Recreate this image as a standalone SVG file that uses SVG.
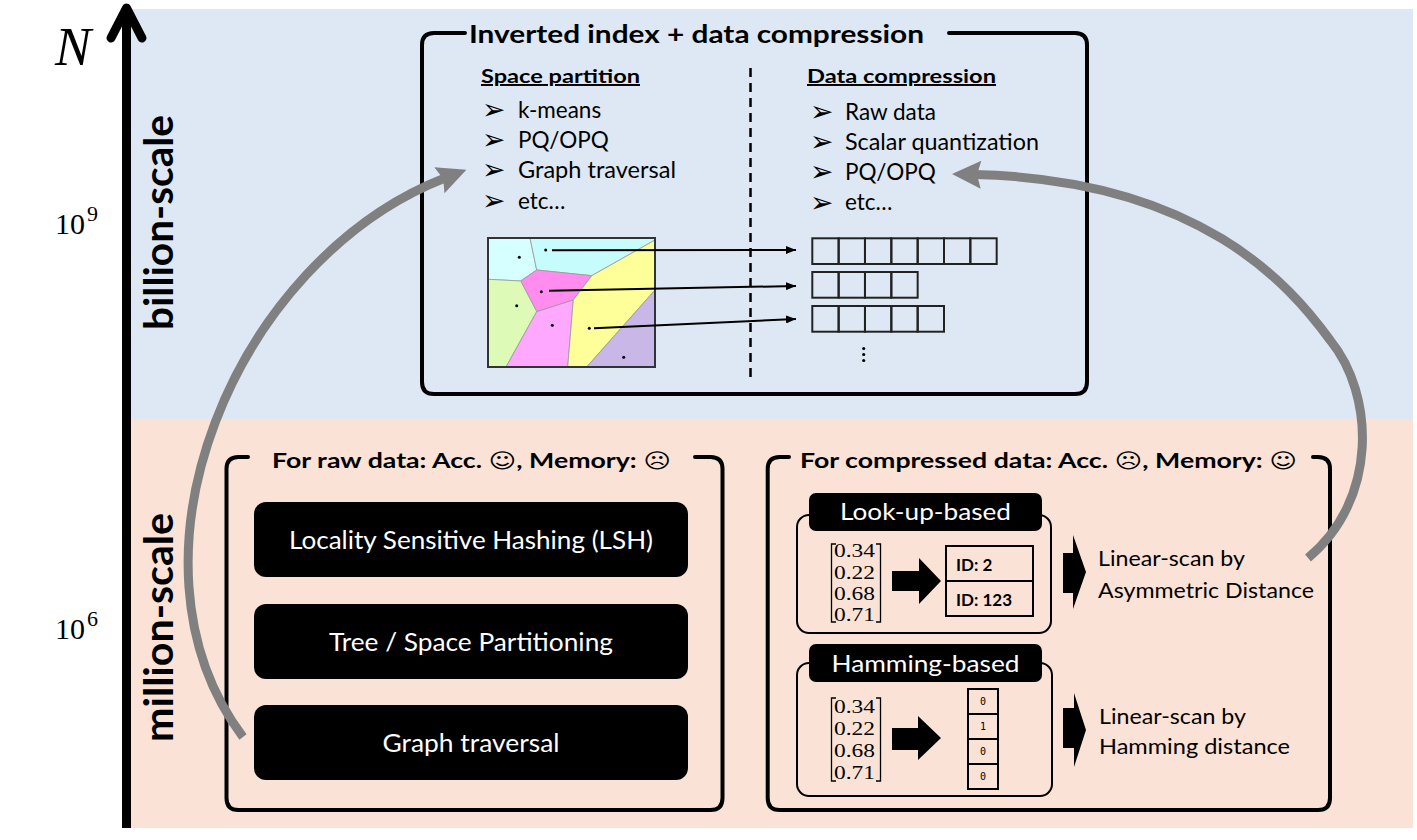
<svg xmlns="http://www.w3.org/2000/svg" width="1417" height="840" viewBox="0 0 1417 840">
<defs>
<style>
.t{font-family:Lato,"DejaVu Sans",sans-serif;fill:#000}
.b{font-weight:bold}
.w{fill:#fff}
.sr{font-family:"Liberation Serif",serif;fill:#000}
.mono{font-family:"DejaVu Sans Mono",monospace;font-size:10px;fill:#000}
.bul{font-family:"DejaVu Sans",sans-serif;font-size:28px;fill:#000}
.frame{fill:none;stroke:#000;stroke-width:4;stroke-linecap:round}
.sub{fill:none;stroke:#000;stroke-width:2}
.cell{fill:none;stroke:#222;stroke-width:2}
.blk{fill:#000}
.vor{stroke:#999;stroke-width:0.8}
.gray{fill:none;stroke:#808080;stroke-width:9}
</style>
<marker id="ah" markerUnits="userSpaceOnUse" markerWidth="10" markerHeight="8" refX="10" refY="4" orient="auto">
<path d="M0,0 L10,4 L0,8 z" fill="#000"/>
</marker>
<marker id="gh" markerUnits="userSpaceOnUse" markerWidth="32" markerHeight="30" refX="6" refY="14" orient="auto" overflow="visible">
<path d="M0,0 L29,14 L0,28 L4,14 z" fill="#808080"/>
</marker>
</defs>

<!-- background bands -->
<rect x="131" y="9" width="1282" height="410" fill="#DEE8F4"/>
<rect x="131" y="419" width="1282" height="409" fill="#FAE3D6"/>

<!-- axis -->
<g id="axis">
<line x1="126.5" y1="828" x2="126.5" y2="9" stroke="#000" stroke-width="9"/>
<polyline points="111,38 126.5,8 142,38" fill="none" stroke="#000" stroke-width="9" stroke-linecap="round" stroke-linejoin="round"/>
<text x="55" y="65" class="sr" font-size="54" font-style="italic">N</text>
<text x="55" y="234" class="sr" font-size="30">10<tspan dx="2" dy="-13" font-size="22">9</tspan></text>
<text x="55" y="639" class="sr" font-size="30">10<tspan dx="2" dy="-13" font-size="22">6</tspan></text>
<text transform="translate(173,222.5) rotate(-90)" text-anchor="middle" class="t b" font-size="40" textLength="215" lengthAdjust="spacingAndGlyphs">billion-scale</text>
<text transform="translate(173,627.5) rotate(-90)" text-anchor="middle" class="t b" font-size="40" textLength="229" lengthAdjust="spacingAndGlyphs">million-scale</text>
</g>

<!-- top box -->
<g id="inverted-index">
<path class="frame" d="M465,33 H434 Q422,33 422,45 V382 Q422,394 434,394 H1075 Q1087,394 1087,382 V45 Q1087,33 1075,33 H949"/>
<text x="469" y="43" class="t b" font-size="25" textLength="455" lengthAdjust="spacingAndGlyphs">Inverted index + data compression</text>
<text x="481" y="83" class="t b" font-size="19.5" text-decoration="underline" textLength="159" lengthAdjust="spacingAndGlyphs">Space partition</text>
<text x="807" y="83" class="t b" font-size="19.5" text-decoration="underline" textLength="189" lengthAdjust="spacingAndGlyphs">Data compression</text>
<line x1="750.5" y1="68" x2="750.5" y2="380" stroke="#000" stroke-width="2.5" stroke-dasharray="9 6"/>
<g class="bul">
<text x="482" y="119">➢</text><text x="482" y="149">➢</text><text x="482" y="179">➢</text><text x="482" y="210">➢</text>
<text x="810" y="121">➢</text><text x="810" y="151">➢</text><text x="810" y="181">➢</text><text x="810" y="212">➢</text>
</g>
<g class="t" font-size="22.5">
<text x="518" y="118">k-means</text>
<text x="518" y="148">PQ/OPQ</text>
<text x="518" y="178" textLength="158" lengthAdjust="spacingAndGlyphs">Graph traversal</text>
<text x="518" y="209">etc…</text>
<text x="845" y="120">Raw data</text>
<text x="845" y="150" textLength="194" lengthAdjust="spacingAndGlyphs">Scalar quantization</text>
<text x="845" y="180">PQ/OPQ</text>
<text x="845" y="210">etc…</text>
</g>
<!-- voronoi -->
<g id="voronoi">
<polygon class="vor" fill="#D6FFFF" points="488,238 530,238 536.7,270 520.7,281 488,279.3"/>
<polygon class="vor" fill="#C6FCFC" points="530,238 655,238 655,240 591.7,275.7 536.7,270"/>
<polygon class="vor" fill="#FF8CEE" points="536.7,270 591.7,275.7 573.3,300 536.7,311.7 520.7,281"/>
<polygon class="vor" fill="#DDFBB7" points="488,279.3 520.7,281 536.7,311.7 506,367 488,367"/>
<polygon class="vor" fill="#FFA8FF" points="536.7,311.7 573.3,300 567.7,367 506,367"/>
<polygon class="vor" fill="#FFFF99" points="591.7,275.7 655,240 655,290 586.7,367 567.7,367 573.3,300"/>
<polygon class="vor" fill="#C9B7E8" points="655,290 655,367 586.7,367"/>
<rect x="488" y="238" width="167" height="129" fill="none" stroke="#333" stroke-width="2"/>
<g fill="#000">
<circle cx="545.7" cy="250" r="1.5"/><circle cx="519.3" cy="257.3" r="1.5"/><circle cx="541.3" cy="291.7" r="1.5"/>
<circle cx="516.7" cy="305.7" r="1.5"/><circle cx="552.3" cy="325.3" r="1.5"/><circle cx="589.3" cy="328.3" r="1.5"/>
<circle cx="623.7" cy="357.3" r="1.5"/>
</g>
</g>
<!-- lists -->
<g id="lists">
<g class="cell">
<rect x="812.3" y="238.3" width="26.34" height="25.7"/><rect x="838.64" y="238.3" width="26.34" height="25.7"/><rect x="864.98" y="238.3" width="26.34" height="25.7"/><rect x="891.32" y="238.3" width="26.34" height="25.7"/><rect x="917.66" y="238.3" width="26.34" height="25.7"/><rect x="944" y="238.3" width="26.34" height="25.7"/><rect x="970.34" y="238.3" width="26.34" height="25.7"/>
<rect x="812.3" y="272" width="26.34" height="25.7"/><rect x="838.64" y="272" width="26.34" height="25.7"/><rect x="864.98" y="272" width="26.34" height="25.7"/><rect x="891.32" y="272" width="26.34" height="25.7"/>
<rect x="812.3" y="306" width="26.34" height="25.7"/><rect x="838.64" y="306" width="26.34" height="25.7"/><rect x="864.98" y="306" width="26.34" height="25.7"/><rect x="891.32" y="306" width="26.34" height="25.7"/><rect x="917.66" y="306" width="26.34" height="25.7"/>
</g>
<g fill="#000"><circle cx="863.7" cy="348.5" r="1.6"/><circle cx="863.7" cy="354.5" r="1.6"/><circle cx="863.7" cy="360.5" r="1.6"/></g>
</g>
</g>

<!-- lower left box -->
<g id="raw-data">
<path class="frame" stroke-width="3.5" d="M248,457 H238.5 Q226.5,457 226.5,469 V798 Q226.5,810 238.5,810 H710.5 Q722.5,810 722.5,798 V469 Q722.5,457 710.5,457 H695"/>
<text x="272" y="468" class="t b" font-size="21" textLength="399" lengthAdjust="spacingAndGlyphs">For raw data: Acc. ☺, Memory: ☹</text>
<g id="lsh"><rect class="blk" x="254" y="502" width="434" height="75" rx="12"/>
<text x="471" y="549" text-anchor="middle" class="t w" font-size="25" textLength="364" lengthAdjust="spacingAndGlyphs">Locality Sensitive Hashing (LSH)</text></g>
<g id="tree"><rect class="blk" x="254" y="604" width="434" height="75" rx="12"/>
<text x="471" y="651" text-anchor="middle" class="t w" font-size="25" textLength="284" lengthAdjust="spacingAndGlyphs">Tree / Space Partitioning</text></g>
<g id="graph"><rect class="blk" x="254" y="705" width="434" height="75" rx="12"/>
<text x="471" y="752" text-anchor="middle" class="t w" font-size="25" textLength="177" lengthAdjust="spacingAndGlyphs">Graph traversal</text></g>
</g>

<!-- lower right box -->
<g id="compressed-data">
<path class="frame" stroke-width="3.5" d="M789,457 H779.7 Q767.7,457 767.7,469 V798 Q767.7,810 779.7,810 H1318 Q1330,810 1330,798 V469 Q1330,457 1318,457 H1313"/>
<text x="800" y="468" class="t b" font-size="21" textLength="497" lengthAdjust="spacingAndGlyphs">For compressed data: Acc. ☹, Memory: ☺</text>
</g>

<g id="lookup">
<rect class="sub" x="797" y="515" width="254" height="118" rx="12"/>
<rect class="blk" x="809" y="493" width="233" height="38" rx="7"/>
<text x="925.5" y="520" text-anchor="middle" class="t w" font-size="24" textLength="171" lengthAdjust="spacingAndGlyphs">Look-up-based</text>
<path d="M836,544 H831.5 V622 H836 M876,544 H880.5 V622 H876" fill="none" stroke="#000" stroke-width="1.3"/>
<g class="sr" font-size="18"><text x="834" y="557" textLength="41" lengthAdjust="spacingAndGlyphs">0.34</text><text x="834" y="578.5" textLength="41" lengthAdjust="spacingAndGlyphs">0.22</text><text x="834" y="600" textLength="41" lengthAdjust="spacingAndGlyphs">0.68</text><text x="834" y="621" textLength="41" lengthAdjust="spacingAndGlyphs">0.71</text></g>
<polygon class="blk" points="892,571 919,571 919,558 941,581 919,604 919,591 892,591"/>
<rect class="sub" x="946" y="546" width="87" height="70"/>
<line x1="946" y1="581" x2="1033" y2="581" stroke="#000" stroke-width="2"/>
<text x="956" y="571" class="t b" font-size="17">ID: 2</text>
<text x="956" y="606" class="t b" font-size="17">ID: 123</text>
<polygon class="blk" points="1063,553 1073,553 1073,535 1086,572 1073,609 1073,593 1063,593"/>
<text x="1098" y="566" class="t" font-size="21.5" textLength="147" lengthAdjust="spacingAndGlyphs">Linear-scan by</text>
<text x="1098" y="598" class="t" font-size="21.5" textLength="216" lengthAdjust="spacingAndGlyphs">Asymmetric Distance</text>
</g>

<g id="hamming">
<rect class="sub" x="797" y="663" width="255" height="133" rx="12"/>
<rect class="blk" x="809" y="644" width="233" height="38" rx="7"/>
<text x="925.5" y="672" text-anchor="middle" class="t w" font-size="24" textLength="188" lengthAdjust="spacingAndGlyphs">Hamming-based</text>
<path d="M836,698 H831.5 V781 H836 M876,698 H880.5 V781 H876" fill="none" stroke="#000" stroke-width="1.3"/>
<g class="sr" font-size="18"><text x="834" y="713" textLength="41" lengthAdjust="spacingAndGlyphs">0.34</text><text x="834" y="735" textLength="41" lengthAdjust="spacingAndGlyphs">0.22</text><text x="834" y="757" textLength="41" lengthAdjust="spacingAndGlyphs">0.68</text><text x="834" y="778.5" textLength="41" lengthAdjust="spacingAndGlyphs">0.71</text></g>
<polygon class="blk" points="892,728 918,728 918,716 941,738 918,760 918,750 892,750"/>
<g class="sub" stroke-width="1.5"><rect x="968" y="689" width="30" height="25"/><rect x="968" y="714" width="30" height="25"/><rect x="968" y="739" width="30" height="25"/><rect x="968" y="764" width="30" height="25"/></g>
<g class="mono" text-anchor="middle"><text x="983" y="705">0</text><text x="983" y="730">1</text><text x="983" y="755">0</text><text x="983" y="780">0</text></g>
<polygon class="blk" points="1063,708 1074,708 1074,693 1086,730 1074,767 1074,748 1063,748"/>
<text x="1099" y="724" class="t" font-size="21.5" textLength="147" lengthAdjust="spacingAndGlyphs">Linear-scan by</text>
<text x="1099" y="754" class="t" font-size="21.5" textLength="191" lengthAdjust="spacingAndGlyphs">Hamming distance</text>
</g>

<!-- connectors -->
<g id="connectors">
<line x1="552" y1="250.3" x2="796" y2="250" stroke="#000" stroke-width="2" marker-end="url(#ah)"/>
<line x1="549" y1="290.7" x2="796" y2="286" stroke="#000" stroke-width="2" marker-end="url(#ah)"/>
<line x1="594" y1="328.3" x2="796" y2="319" stroke="#000" stroke-width="2" marker-end="url(#ah)"/>
<path class="gray" d="M243,737 C110,560 235,260 445,178" marker-end="url(#gh)"/>
<path class="gray" d="M1308,558 C1378,500 1375,395 1330,340 C1290,285 1200,180 975,174.5" marker-end="url(#gh)"/>
</g>
</svg>
